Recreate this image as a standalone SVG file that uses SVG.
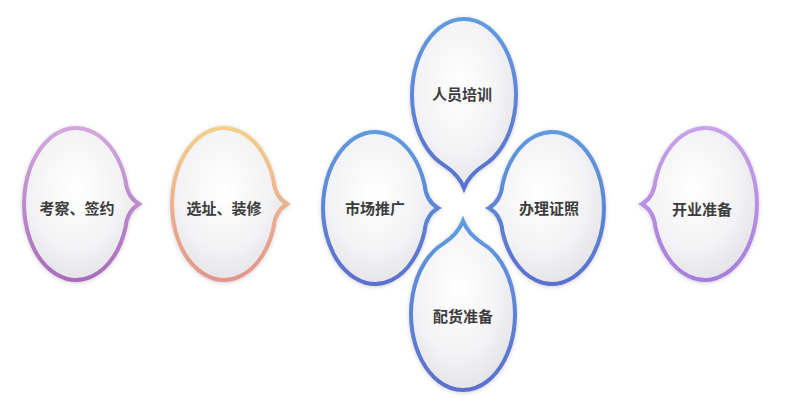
<svg xmlns="http://www.w3.org/2000/svg" width="794" height="409" viewBox="0 0 794 409">
<style>
.lbl{font-family:"Noto Sans CJK SC","Noto Sans",sans-serif;font-size:15px;font-weight:bold;fill:#3c3c3c;text-anchor:middle;dominant-baseline:central}
.bub{stroke-width:4;filter:url(#sh);fill:url(#fillG)}
</style>
<defs>
<radialGradient id="fillG" cx="0.45" cy="0.4" r="0.65">
<stop offset="0" stop-color="#ffffff"/>
<stop offset="0.6" stop-color="#f3f3f5"/>
<stop offset="1" stop-color="#e2e2e6"/>
</radialGradient>
<linearGradient id="gPurple" x1="0" y1="0" x2="0" y2="1">
<stop offset="0" stop-color="#d3a8de"/>
<stop offset="1" stop-color="#a96bba"/>
</linearGradient>
<linearGradient id="gOrange" x1="0" y1="0" x2="0" y2="1">
<stop offset="0" stop-color="#f3d08a"/>
<stop offset="1" stop-color="#e5948c"/>
</linearGradient>
<linearGradient id="gBlue" x1="0" y1="0" x2="0" y2="1">
<stop offset="0" stop-color="#5f9be0"/>
<stop offset="1" stop-color="#5b6fce"/>
</linearGradient>
<linearGradient id="gLav" x1="0" y1="0" x2="0" y2="1">
<stop offset="0" stop-color="#c8a2ea"/>
<stop offset="1" stop-color="#a77cdc"/>
</linearGradient>
<filter id="sh" x="-20%" y="-20%" width="140%" height="140%">
<feDropShadow dx="0" dy="1" stdDeviation="2" flood-color="#8a8aa0" flood-opacity="0.4"/>
</filter>
<path id="pRight" d="M63,0 Q51,-7 49.5,-23.5 A52,76 0 1 0 49.5,23.5 Q51,7 63,0Z"/>
<path id="pLeft" d="M-63,0 Q-51,-7 -49.5,-23.5 A52,76 0 1 1 -49.5,23.5 Q-51,7 -63,0Z"/>
<path id="pDown" d="M0,93 Q5,80 20,70.1 A52,76 0 1 0 -20,70.1 Q-5,80 0,93Z"/>
<path id="pUp" d="M0,-93 Q5,-80 20,-70.1 A52,76 0 1 1 -20,-70.1 Q-5,-80 0,-93Z"/>
</defs>
<rect width="794" height="409" fill="#ffffff"/>
<g id="connectors"/>
<g id="node-kaocha" transform="translate(76,204)">
<use href="#pRight" class="bub" stroke="url(#gPurple)"/>
<text class="lbl" x="1" y="3">考察、签约</text>
</g>
<g id="node-xuanzhi" transform="translate(224,204)">
<use href="#pRight" class="bub" stroke="url(#gOrange)"/>
<text class="lbl" x="0" y="3">选址、装修</text>
</g>
<g id="node-shichang" transform="translate(375,208)">
<use href="#pRight" class="bub" stroke="url(#gBlue)"/>
<text class="lbl" x="0" y="-1">市场推广</text>
</g>
<g id="node-renyuan" transform="translate(464,95)">
<use href="#pDown" class="bub" stroke="url(#gBlue)"/>
<text class="lbl" x="-2" y="-2">人员培训</text>
</g>
<g id="node-peihuo" transform="translate(463,314)">
<use href="#pUp" class="bub" stroke="url(#gBlue)"/>
<text class="lbl" x="0" y="1">配货准备</text>
</g>
<g id="node-banli" transform="translate(552,208)">
<use href="#pLeft" class="bub" stroke="url(#gBlue)"/>
<text class="lbl" x="-3" y="-1">办理证照</text>
</g>
<g id="node-kaiye" transform="translate(705,204)">
<use href="#pLeft" class="bub" stroke="url(#gLav)"/>
<text class="lbl" x="-3" y="4">开业准备</text>
</g>
</svg>
